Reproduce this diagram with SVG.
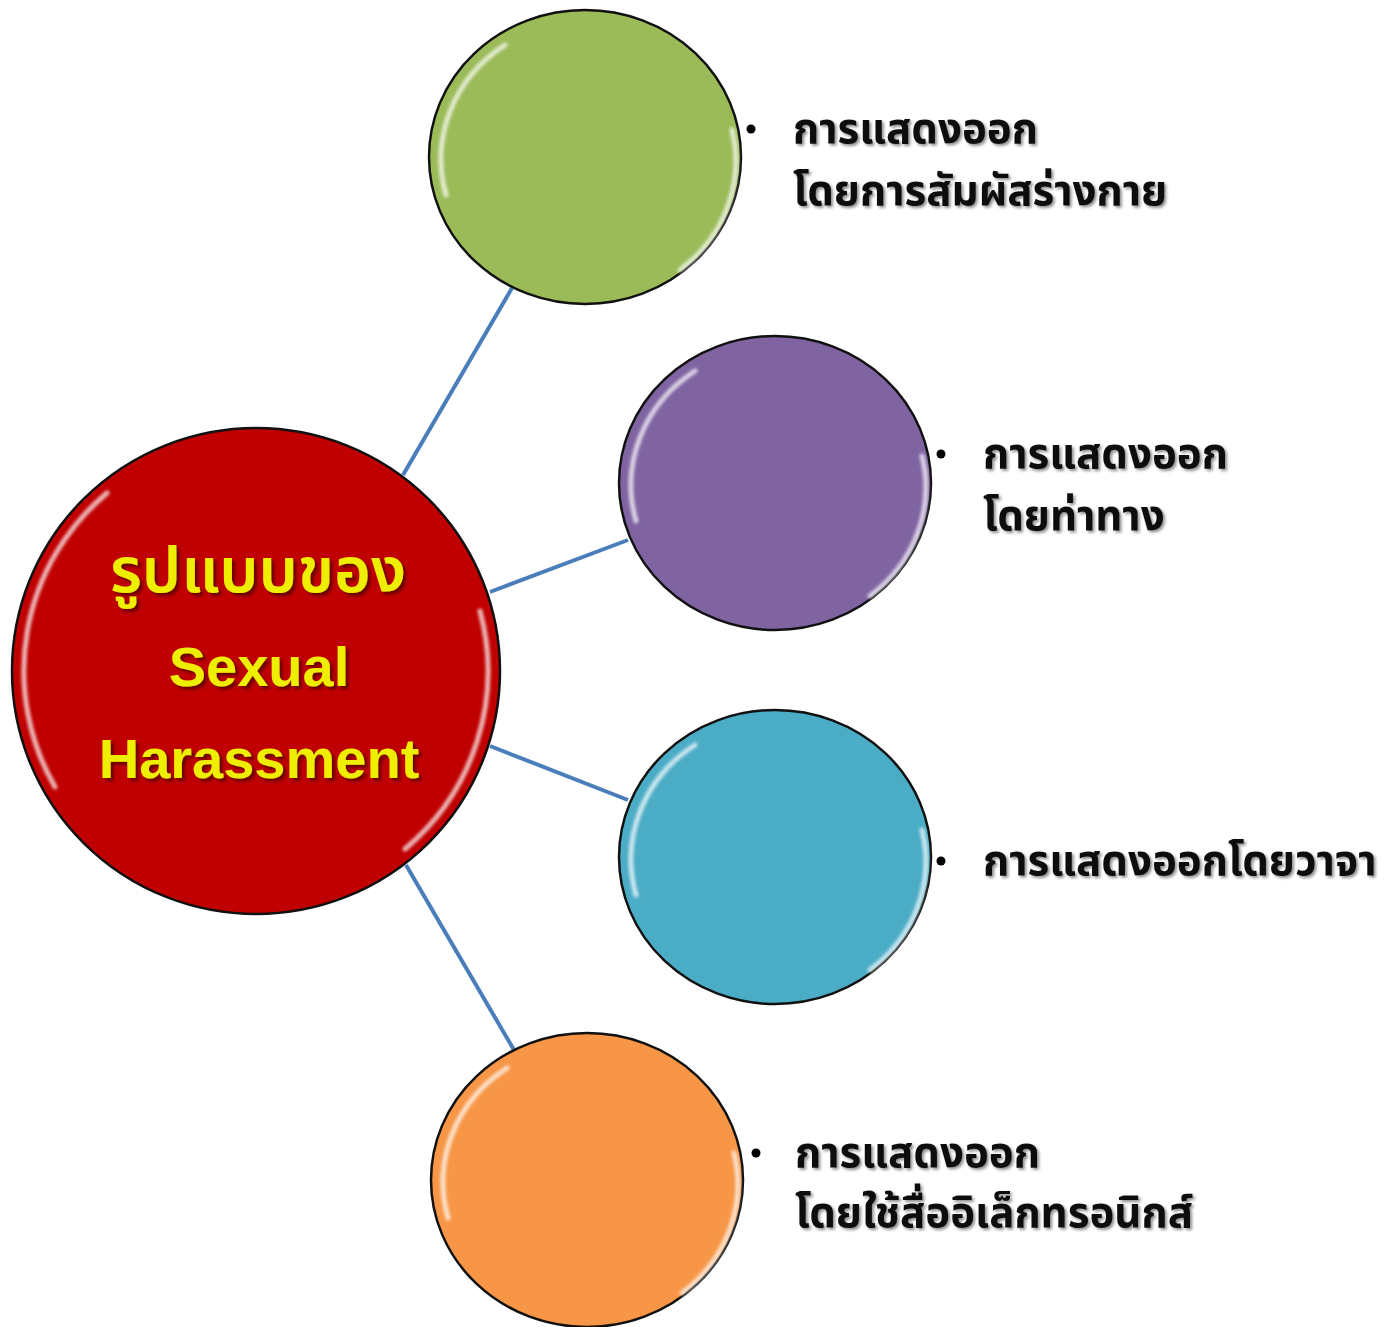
<svg xmlns="http://www.w3.org/2000/svg" width="1388" height="1327" viewBox="0 0 1388 1327">
<defs>
<style>
.conn{stroke:#4a7ebb;stroke-width:4;fill:none}
.node{stroke:#111;stroke-width:2.5}
.hl{fill:none;stroke:#fff;stroke-width:5;stroke-opacity:0.7;stroke-linecap:round;filter:url(#blur)}
.lbl{font-family:"Noto Sans Thai","Noto Sans","DejaVu Sans",sans-serif;font-size:42px;font-weight:bold;fill:#111;filter:url(#shadow)}
.bullet{fill:#000}
.ctr{font-family:"Liberation Sans",Arial,sans-serif;font-weight:bold;fill:#eeee00;text-anchor:middle;filter:url(#shadow2)}
.ctrth{font-family:"Noto Sans Thai","Noto Sans","DejaVu Sans",sans-serif;font-weight:600;font-size:63px;fill:#eeee00;text-anchor:middle;filter:url(#shadow2)}
</style>
<filter id="blur" x="-10%" y="-10%" width="120%" height="120%"><feGaussianBlur stdDeviation="1.8"/></filter>
<filter id="shadow" x="-5%" y="-20%" width="110%" height="150%"><feDropShadow dx="2" dy="2" stdDeviation="1.5" flood-color="#000" flood-opacity="0.45"/></filter>
<filter id="shadow2" x="-5%" y="-20%" width="110%" height="150%"><feDropShadow dx="3" dy="3" stdDeviation="1.5" flood-color="#400" flood-opacity="0.7"/></filter>
</defs>
<rect width="1388" height="1327" fill="#fff"/>
<g id="connectors">
<line class="conn" x1="403" y1="475" x2="512" y2="288"/>
<line class="conn" x1="490" y1="592" x2="628" y2="540"/>
<line class="conn" x1="490" y1="746" x2="628" y2="800"/>
<line class="conn" x1="406" y1="865" x2="514" y2="1050"/>
</g>
<g id="node-center">
<ellipse class="node" cx="256" cy="671" rx="244" ry="243" fill="#c00000"/>
<path class="hl" d="M55 787 A232 232 0 0 1 107 493" stroke="#ffb0b0"/>
<path class="hl" d="M480 611 A232 232 0 0 1 405 849" stroke="#ffb0b0"/>
<text class="ctrth" x="258" y="592">รูปแบบของ</text>
<text class="ctr" x="259" y="686" font-size="56">Sexual</text>
<text class="ctr" x="259" y="778" font-size="56">Harassment</text>
</g>
<g id="node-1">
<ellipse class="node" cx="585" cy="157" rx="156" ry="147" fill="#9bbb59"/>
<path class="hl" d="M446 195 A146 138 0 0 1 505 45"/>
<path class="hl" d="M732 130 A146 138 0 0 1 680 270"/>
<circle class="bullet" cx="751" cy="129" r="4.5"/>
<text class="lbl" x="793" y="143">การแสดงออก</text>
<text class="lbl" x="793" y="205">โดยการสัมผัสร่างกาย</text>
</g>
<g id="node-2">
<ellipse class="node" cx="775" cy="483" rx="156" ry="147" fill="#8064a2"/>
<path class="hl" d="M636 521 A146 138 0 0 1 695 371"/>
<path class="hl" d="M922 456 A146 138 0 0 1 870 596"/>
<circle class="bullet" cx="941" cy="454" r="4.5"/>
<text class="lbl" x="983" y="468">การแสดงออก</text>
<text class="lbl" x="983" y="530">โดยท่าทาง</text>
</g>
<g id="node-3">
<ellipse class="node" cx="775" cy="857" rx="156" ry="147" fill="#4bacc6"/>
<path class="hl" d="M636 895 A146 138 0 0 1 695 745"/>
<path class="hl" d="M922 830 A146 138 0 0 1 870 970"/>
<circle class="bullet" cx="941" cy="861" r="4.5"/>
<text class="lbl" x="983" y="875">การแสดงออกโดยวาจา</text>
</g>
<g id="node-4">
<ellipse class="node" cx="587" cy="1180" rx="156" ry="147" fill="#f79646"/>
<path class="hl" d="M448 1218 A146 138 0 0 1 507 1068"/>
<path class="hl" d="M734 1153 A146 138 0 0 1 682 1293"/>
<circle class="bullet" cx="756" cy="1153" r="4.5"/>
<text class="lbl" x="795" y="1167">การแสดงออก</text>
<text class="lbl" x="795" y="1227">โดยใช้สื่ออิเล็กทรอนิกส์</text>
</g>
</svg>
